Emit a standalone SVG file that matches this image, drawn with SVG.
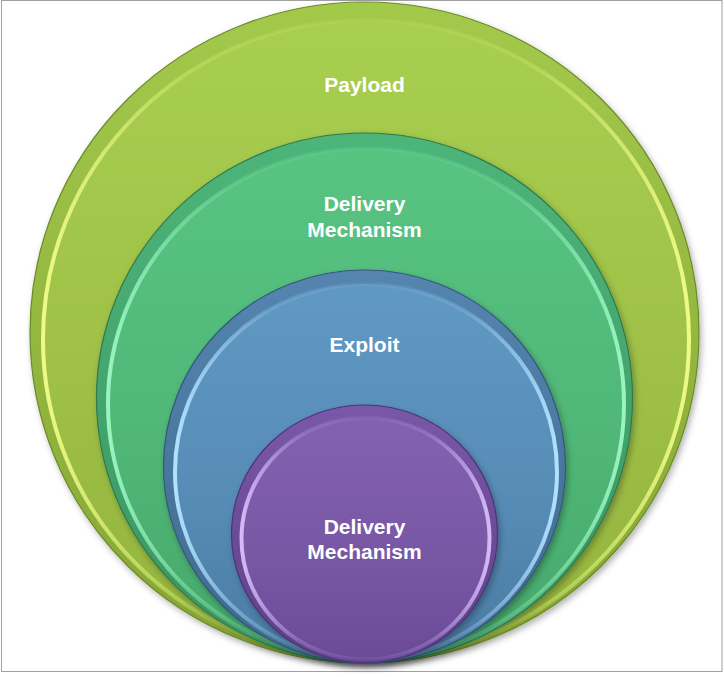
<svg xmlns="http://www.w3.org/2000/svg" width="724" height="677" viewBox="0 0 724 677">
  <style>
    .lbl { font-family: "Liberation Sans", Arial, sans-serif; font-weight: bold; font-size: 21px; fill: #ffffff; text-anchor: middle; }
    .edge { stroke-width: 1.2; }
    .rim { stroke-width: 4; }
  </style>
  <defs>
    <filter id="shadow" x="-10%" y="-10%" width="125%" height="125%">
      <feDropShadow dx="2" dy="3" stdDeviation="3" flood-color="#000" flood-opacity="0.3"/>
    </filter>
    <linearGradient id="gBand" x1="0" y1="0" x2="0" y2="1">
      <stop offset="0" stop-color="#a3c94c"/>
      <stop offset="1" stop-color="#86a634"/>
    </linearGradient>
    <linearGradient id="gFill" x1="0" y1="0" x2="0" y2="1">
      <stop offset="0" stop-color="#a8cf50"/>
      <stop offset="0.6" stop-color="#9dbf45"/>
      <stop offset="1" stop-color="#93b33e"/>
    </linearGradient>
    <linearGradient id="gRim" x1="0" y1="0" x2="1" y2="0">
      <stop offset="0" stop-color="#eefb86" stop-opacity="1"/>
      <stop offset="0.25" stop-color="#d0ea70" stop-opacity="0.35"/>
      <stop offset="0.5" stop-color="#c0e060" stop-opacity="0.15"/>
      <stop offset="0.75" stop-color="#d0ea70" stop-opacity="0.35"/>
      <stop offset="1" stop-color="#eefb86" stop-opacity="1"/>
    </linearGradient>

    <linearGradient id="tBand" x1="0" y1="0" x2="0" y2="1">
      <stop offset="0" stop-color="#4db57a"/>
      <stop offset="1" stop-color="#3b9460"/>
    </linearGradient>
    <linearGradient id="tFill" x1="0" y1="0" x2="0" y2="1">
      <stop offset="0" stop-color="#58c482"/>
      <stop offset="0.6" stop-color="#4fb677"/>
      <stop offset="1" stop-color="#45a76b"/>
    </linearGradient>
    <linearGradient id="tRim" x1="0" y1="0" x2="1" y2="0">
      <stop offset="0" stop-color="#98f5c0" stop-opacity="1"/>
      <stop offset="0.25" stop-color="#78dca2" stop-opacity="0.35"/>
      <stop offset="0.5" stop-color="#6ad296" stop-opacity="0.15"/>
      <stop offset="0.75" stop-color="#78dca2" stop-opacity="0.35"/>
      <stop offset="1" stop-color="#98f5c0" stop-opacity="1"/>
    </linearGradient>

    <linearGradient id="bBand" x1="0" y1="0" x2="0" y2="1">
      <stop offset="0" stop-color="#5485b0"/>
      <stop offset="1" stop-color="#40698e"/>
    </linearGradient>
    <linearGradient id="bFill" x1="0" y1="0" x2="0" y2="1">
      <stop offset="0" stop-color="#6099c4"/>
      <stop offset="0.6" stop-color="#568bb5"/>
      <stop offset="1" stop-color="#4a7aa2"/>
    </linearGradient>
    <linearGradient id="bRim" x1="0" y1="0" x2="1" y2="0">
      <stop offset="0" stop-color="#b0e2ff" stop-opacity="1"/>
      <stop offset="0.25" stop-color="#8cc0e6" stop-opacity="0.35"/>
      <stop offset="0.5" stop-color="#7ab0da" stop-opacity="0.15"/>
      <stop offset="0.75" stop-color="#8cc0e6" stop-opacity="0.35"/>
      <stop offset="1" stop-color="#b0e2ff" stop-opacity="1"/>
    </linearGradient>

    <linearGradient id="pBand" x1="0" y1="0" x2="0" y2="1">
      <stop offset="0" stop-color="#7a58a8"/>
      <stop offset="1" stop-color="#5c4088"/>
    </linearGradient>
    <linearGradient id="pFill" x1="0" y1="0" x2="0" y2="1">
      <stop offset="0" stop-color="#8462b2"/>
      <stop offset="0.6" stop-color="#7756a4"/>
      <stop offset="1" stop-color="#6b4b96"/>
    </linearGradient>
    <linearGradient id="pRim" x1="0" y1="0" x2="1" y2="0">
      <stop offset="0" stop-color="#d6b8f6" stop-opacity="1"/>
      <stop offset="0.25" stop-color="#b090dc" stop-opacity="0.4"/>
      <stop offset="0.5" stop-color="#a080d0" stop-opacity="0.15"/>
      <stop offset="0.75" stop-color="#b090dc" stop-opacity="0.4"/>
      <stop offset="1" stop-color="#d6b8f6" stop-opacity="1"/>
    </linearGradient>
  </defs>

  <rect x="0" y="0" width="724" height="677" fill="#ffffff"/>
  <rect x="1.5" y="0.5" width="720.5" height="671" fill="none" stroke="#a0a0a0" stroke-width="1"/>

  <g id="payload">
    <ellipse cx="364.5" cy="332.5" rx="334.5" ry="330.5" fill="url(#gBand)" stroke="#6c8a28" class="edge" filter="url(#shadow)"/>
    <ellipse cx="366" cy="339.5" rx="323" ry="319.5" fill="url(#gFill)" stroke="url(#gRim)" class="rim"/>
    <text class="lbl" x="364.5" y="92">Payload</text>
  </g>

  <g id="delivery-outer">
    <ellipse cx="364.5" cy="398" rx="268" ry="265" fill="url(#tBand)" stroke="#2e7a50" class="edge" filter="url(#shadow)"/>
    <ellipse cx="366" cy="404" rx="258" ry="256" fill="url(#tFill)" stroke="url(#tRim)" class="rim"/>
    <text class="lbl" x="364.5" y="211">Delivery</text>
    <text class="lbl" x="364.5" y="237">Mechanism</text>
  </g>

  <g id="exploit">
    <ellipse cx="364.5" cy="466.5" rx="201" ry="196.5" fill="url(#bBand)" stroke="#34597a" class="edge" filter="url(#shadow)"/>
    <ellipse cx="366" cy="472" rx="191" ry="188" fill="url(#bFill)" stroke="url(#bRim)" class="rim"/>
    <text class="lbl" x="364.5" y="352">Exploit</text>
  </g>

  <g id="delivery-inner">
    <ellipse cx="364.5" cy="534" rx="133" ry="129" fill="url(#pBand)" stroke="#4d3476" class="edge" filter="url(#shadow)"/>
    <ellipse cx="365.5" cy="538.5" rx="124" ry="121" fill="url(#pFill)" stroke="url(#pRim)" class="rim"/>
    <text class="lbl" x="364.5" y="534">Delivery</text>
    <text class="lbl" x="364.5" y="559">Mechanism</text>
  </g>
</svg>
